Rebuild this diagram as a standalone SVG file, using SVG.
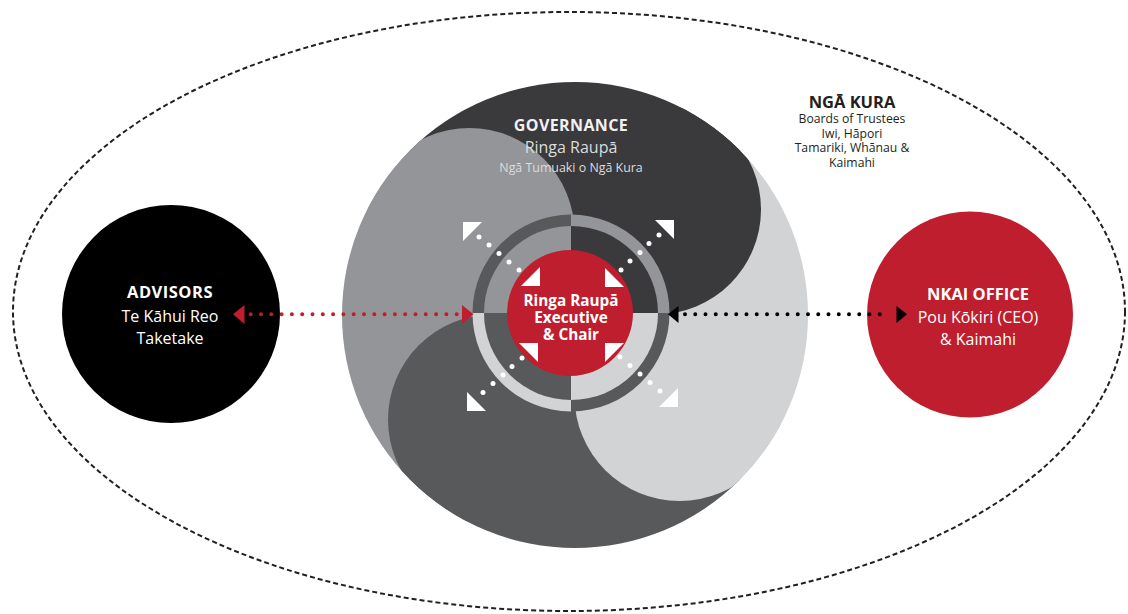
<svg xmlns="http://www.w3.org/2000/svg" width="1128" height="614" viewBox="0 0 1128 614">
<style>
  .t{font-family:"Open Sans","Liberation Sans",sans-serif;text-anchor:middle}
  .b{font-weight:700}
  .w{fill:#ffffff}
  .k{fill:#231f20}
  .dk{fill:#3a393b}
  .gy{fill:#939598}
  .dg{fill:#58595b}
  .lt{fill:#d1d3d4}
  .red{fill:#be1e2d}
  .wd{fill:#ffffff}
</style>
<defs>
  <clipPath id="bigClip"><circle cx="575" cy="315" r="233"/></clipPath>
  <clipPath id="qTL"><rect x="274.5" y="14.5" width="300" height="300"/></clipPath>
  <clipPath id="qTR"><rect x="574.5" y="14.5" width="300" height="300"/></clipPath>
  <clipPath id="qBR"><rect x="574.5" y="314.5" width="300" height="300"/></clipPath>
  <clipPath id="qBL"><rect x="274.5" y="314.5" width="300" height="300"/></clipPath>
</defs>
<rect width="1128" height="614" fill="#ffffff"/>

<g id="nga-kura">
  <ellipse cx="569" cy="311.5" rx="556" ry="299.5" fill="none" stroke="#231f20" stroke-width="2" stroke-dasharray="5 3"/>
  <text class="t b k" x="852" y="108" font-size="16.5">NGĀ KURA</text>
  <text class="t k" x="852" y="123" font-size="12.2">Boards of Trustees</text>
  <text class="t k" x="852" y="137.5" font-size="12.2">Iwi, Hāpori</text>
  <text class="t k" x="852" y="152" font-size="12.2">Tamariki, Whānau &amp;</text>
  <text class="t k" x="852" y="166.5" font-size="12.2">Kaimahi</text>
</g>

<g id="governance">
  <g clip-path="url(#bigClip)">
    <polygon class="dk" points="574.5,314.5 274.5,14.5 874.5,14.5"/>
    <polygon class="gy" points="574.5,314.5 274.5,14.5 274.5,614.5"/>
    <polygon class="dg" points="574.5,314.5 274.5,614.5 874.5,614.5"/>
    <polygon class="lt" points="574.5,314.5 874.5,14.5 874.5,614.5"/>
    <circle class="gy" cx="469.4" cy="233.1" r="105.1" clip-path="url(#qTL)"/>
    <circle class="dk" cx="655.9" cy="209.4" r="105.1" clip-path="url(#qTR)"/>
    <circle class="lt" cx="679.6" cy="395.9" r="105.1" clip-path="url(#qBR)"/>
    <circle class="dg" cx="493.1" cy="419.6" r="105.1" clip-path="url(#qBL)"/>
  </g>
  <text class="t b" x="571" y="131" font-size="16" letter-spacing="0.4" fill="#f1f1f2">GOVERNANCE</text>
  <text class="t" x="571" y="153" font-size="16" fill="#dcddde">Ringa Raupā</text>
  <text class="t" x="571" y="172" font-size="12.4" fill="#dcddde">Ngā Tumuaki o Ngā Kura</text>
</g>

<g id="ring">
  <path class="dg" d="M571,313 L472.5,313 A98.5,98.5 0 0 1 571,214.5 Z"/>
  <path class="gy" d="M571,313 L571,214.5 A98.5,98.5 0 0 1 669.5,313 Z"/>
  <path class="dg" d="M571,313 L669.5,313 A98.5,98.5 0 0 1 571,411.5 Z"/>
  <path class="lt" d="M571,313 L571,411.5 A98.5,98.5 0 0 1 472.5,313 Z"/>
  <path class="gy" d="M571,313 L484,313 A87,87 0 0 1 571,226 Z"/>
  <path class="dk" d="M571,313 L571,226 A87,87 0 0 1 658,313 Z"/>
  <path class="lt" d="M571,313 L658,313 A87,87 0 0 1 571,400 Z"/>
  <path class="dg" d="M571,313 L571,400 A87,87 0 0 1 484,313 Z"/>
</g>

<g id="executive">
  <circle class="red" cx="570" cy="313" r="63"/>
  <text class="t b w" x="571" y="306" font-size="15.3">Ringa Raupā</text>
  <text class="t b w" x="571" y="323" font-size="15.3">Executive</text>
  <text class="t b w" x="571" y="339.5" font-size="15.3">&amp; Chair</text>
</g>

<g id="advisors">
  <circle cx="171" cy="314" r="109" fill="#000000"/>
  <text class="t b w" x="170" y="298" font-size="16.5" letter-spacing="0.5">ADVISORS</text>
  <text class="t w" x="170" y="322" font-size="16">Te Kāhui Reo</text>
  <text class="t w" x="170" y="344" font-size="16">Taketake</text>
</g>

<g id="nkai-office">
  <circle class="red" cx="970" cy="314.5" r="103"/>
  <text class="t b w" x="978" y="300" font-size="16.5">NKAI OFFICE</text>
  <text class="t w" x="978" y="323" font-size="16">Pou Kōkiri (CEO)</text>
  <text class="t w" x="978" y="345" font-size="16">&amp; Kaimahi</text>
</g>

<g id="connectors">
  <line x1="250.7" y1="314.3" x2="457" y2="314.3" stroke="#be1e2d" stroke-width="4" stroke-linecap="round" stroke-dasharray="0 10.3"/>
  <polygon class="red" points="233,314.3 244.5,305 244.5,324"/>
  <polygon class="red" points="473.5,314.3 462,305 462,324"/>
  <line x1="685" y1="314.3" x2="890" y2="314.3" stroke="#000000" stroke-width="4" stroke-linecap="round" stroke-dasharray="0 10.25"/>
  <polygon fill="#000000" points="668,314.3 678.5,306 678.5,323"/>
  <polygon fill="#000000" points="907,314.3 896.5,306 896.5,323"/>
  <g class="wd">
    <polygon points="463,222 482,222 463,241"/>
    <polygon points="674,220 655,220 674,239"/>
    <polygon points="467,411 467,392 486,411"/>
    <polygon points="678,407 678,388 659,407"/>
    <polygon points="540,286 540,267 521,286"/>
    <polygon points="605,287 605,268 624,287"/>
    <polygon points="538,343 538,362 519,343"/>
    <polygon points="605,343 605,362 624,343"/>
    <circle cx="479" cy="237" r="2.5"/><circle cx="489" cy="245" r="2.5"/><circle cx="499" cy="253.5" r="2.5"/><circle cx="509" cy="262" r="2.5"/><circle cx="519" cy="270" r="2.5"/>
    <circle cx="659" cy="235" r="2.5"/><circle cx="649" cy="243.5" r="2.5"/><circle cx="640" cy="252.5" r="2.5"/><circle cx="630" cy="261" r="2.5"/><circle cx="621" cy="270" r="2.5"/>
    <circle cx="522" cy="358" r="2.5"/><circle cx="512" cy="366.5" r="2.5"/><circle cx="503" cy="375" r="2.5"/><circle cx="493" cy="383.5" r="2.5"/><circle cx="483" cy="392.5" r="2.5"/>
    <circle cx="620" cy="357" r="2.5"/><circle cx="630" cy="365.5" r="2.5"/><circle cx="640" cy="374" r="2.5"/><circle cx="650" cy="382.5" r="2.5"/><circle cx="660" cy="391" r="2.5"/>
  </g>
</g>
</svg>
